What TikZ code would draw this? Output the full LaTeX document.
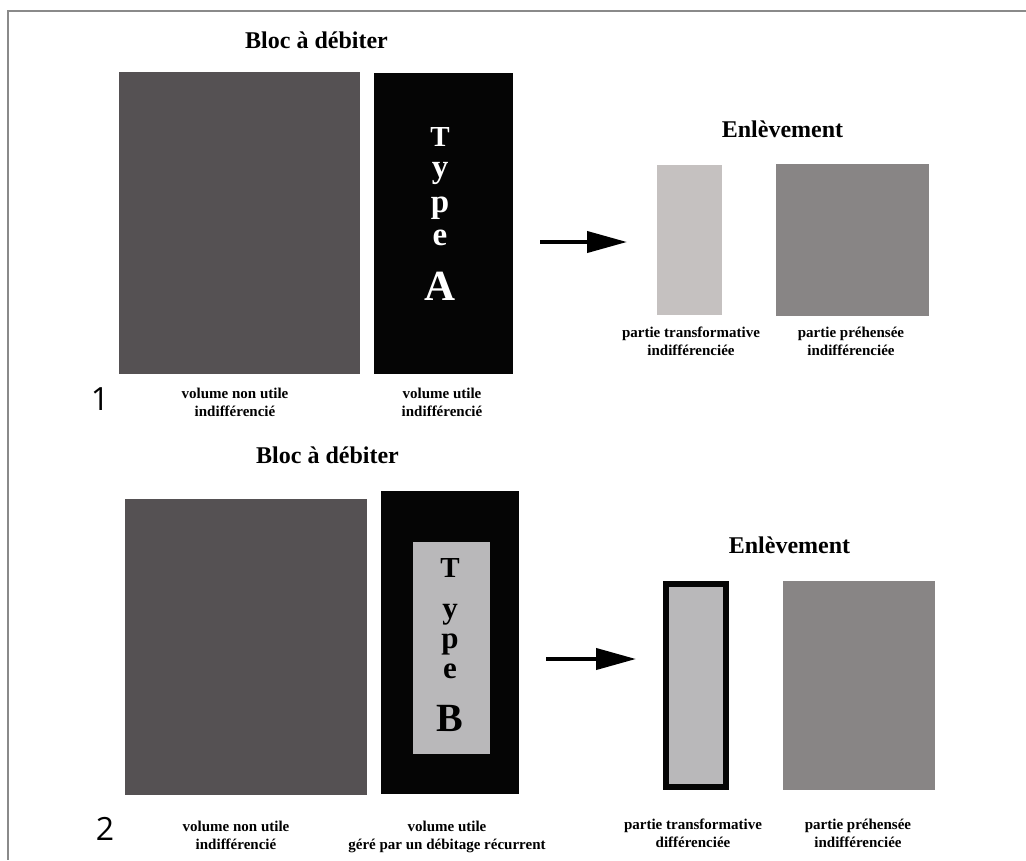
\documentclass[tikz,border=0pt]{standalone}
\usepackage{fontspec}
\setmainfont{Liberation Serif}
\newfontfamily\numfont{Open Sans}
\usetikzlibrary{arrows.meta}

\definecolor{blocgray}{HTML}{555153}
\definecolor{blocblack}{HTML}{050505}
\definecolor{paleA}{HTML}{C5C1C0}
\definecolor{midgray}{HTML}{888585}
\definecolor{paleB}{HTML}{B9B8BA}
\definecolor{rulegray}{HTML}{8A8A8A}

% two centred lines whose reference point is the first baseline
\newcommand{\twolines}[2]{\vtop{\halign{\hfil##\hfil\cr #1\cr #2\cr}}}

\tikzset{
  block/.style={rectangle, inner sep=0pt, draw=none},
  title/.style={inner sep=0pt, anchor=base, font=\bfseries\fontsize{24}{28}\selectfont},
  caption/.style={inner sep=0pt, anchor=base, font=\bfseries\fontsize{15}{18.5}\selectfont},
  number/.style={inner sep=0pt, anchor=base, font=\numfont\fontsize{32}{36}\selectfont},
  letter/.style={inner sep=0pt, anchor=base},
  flow/.style={line width=4pt, -{Triangle[length=40pt,width=21pt]}},
}

\begin{document}
\begin{tikzpicture}[x=1pt, y=-1pt]
\useasboundingbox (0,0) rectangle (1026,860);

% outer rule
\draw[rulegray, line width=2pt] (1026,11) -- (8,11) -- (8,860);

% ---------- case 1 ----------
\node[title] (t1) at (316.5,48) {Bloc à débiter};
\node[block, fill=blocgray, minimum width=241pt, minimum height=302pt] (g1) at (239.5,223) {};
\node[block, fill=blocblack, minimum width=139pt, minimum height=301pt] (b1) at (443.5,223.5) {};
\node[letter, white, font=\bfseries\fontsize{29}{30}\selectfont] (a1) at (440,146) {T};
\node[letter, white, font=\bfseries\fontsize{33}{33}\selectfont] (a2) at (440,177) {y};
\node[letter, white, font=\bfseries\fontsize{33}{33}\selectfont] (a3) at (440,212) {p};
\node[letter, white, font=\bfseries\fontsize{33}{33}\selectfont] (a4) at (440,245) {e};
\node[letter, white, font=\bfseries\fontsize{43}{44}\selectfont] (a5) at (440,300) {A};

\coordinate (s1) at (540,242);
\coordinate (e1) at (627,242);
\draw[flow] (s1) -- (e1);

\node[title] (en1) at (782.5,137) {Enlèvement};
\node[block, fill=paleA, minimum width=65pt, minimum height=150pt] (l1) at (689.5,240) {};
\node[block, fill=midgray, minimum width=153pt, minimum height=152pt] (d1) at (852.5,240) {};

\node[caption] (c11) at (235,398) {\twolines{volume non utile}{indifférencié}};
\node[caption] (c12) at (442,398) {\twolines{volume utile}{indifférencié}};
\node[caption] (c13) at (691,337) {\twolines{partie transformative}{indifférenciée}};
\node[caption] (c14) at (851,337) {\twolines{partie préhensée}{indifférenciée}};
\node[number] (n1) at (100,410) {1};

% ---------- case 2 ----------
\node[title] (t2) at (327.5,463) {Bloc à débiter};
\node[block, fill=blocgray, minimum width=242pt, minimum height=296pt] (g2) at (246,647) {};
\node[block, fill=blocblack, minimum width=138pt, minimum height=303pt] (b2) at (450,642.5) {};
\node[block, fill=paleB, minimum width=77pt, minimum height=212pt] (i2) at (451.5,648) {};
\node[letter, font=\bfseries\fontsize{29}{30}\selectfont] (bb1) at (450,577) {T};
\node[letter, font=\bfseries\fontsize{31}{31}\selectfont] (bb2) at (450,618) {y};
\node[letter, font=\bfseries\fontsize{31}{31}\selectfont] (bb3) at (450,648) {p};
\node[letter, font=\bfseries\fontsize{31}{31}\selectfont] (bb4) at (450,678) {e};
\node[letter, font=\bfseries\fontsize{40}{40}\selectfont] (bb5) at (450,731) {B};

\coordinate (s2) at (546,659);
\coordinate (e2) at (636,659);
\draw[flow] (s2) -- (e2);

\node[title] (en2) at (789.5,553) {Enlèvement};
\node[block, draw=blocblack, line width=6pt, fill=paleB, minimum width=60pt, minimum height=203pt] (f2) at (696,685.5) {};
\node[block, fill=midgray, minimum width=152pt, minimum height=209pt] (d2) at (859,685.5) {};

\node[caption] (c21) at (236,831) {\twolines{volume non utile}{indifférencié}};
\node[caption] (c22) at (447,831) {\twolines{volume utile}{géré par un débitage récurrent}};
\node[caption] (c23) at (693,829) {\twolines{partie transformative}{différenciée}};
\node[caption] (c24) at (858,829) {\twolines{partie préhensée}{indifférenciée}};
\node[number] (n2) at (105,840) {2};
\end{tikzpicture}
\end{document}
